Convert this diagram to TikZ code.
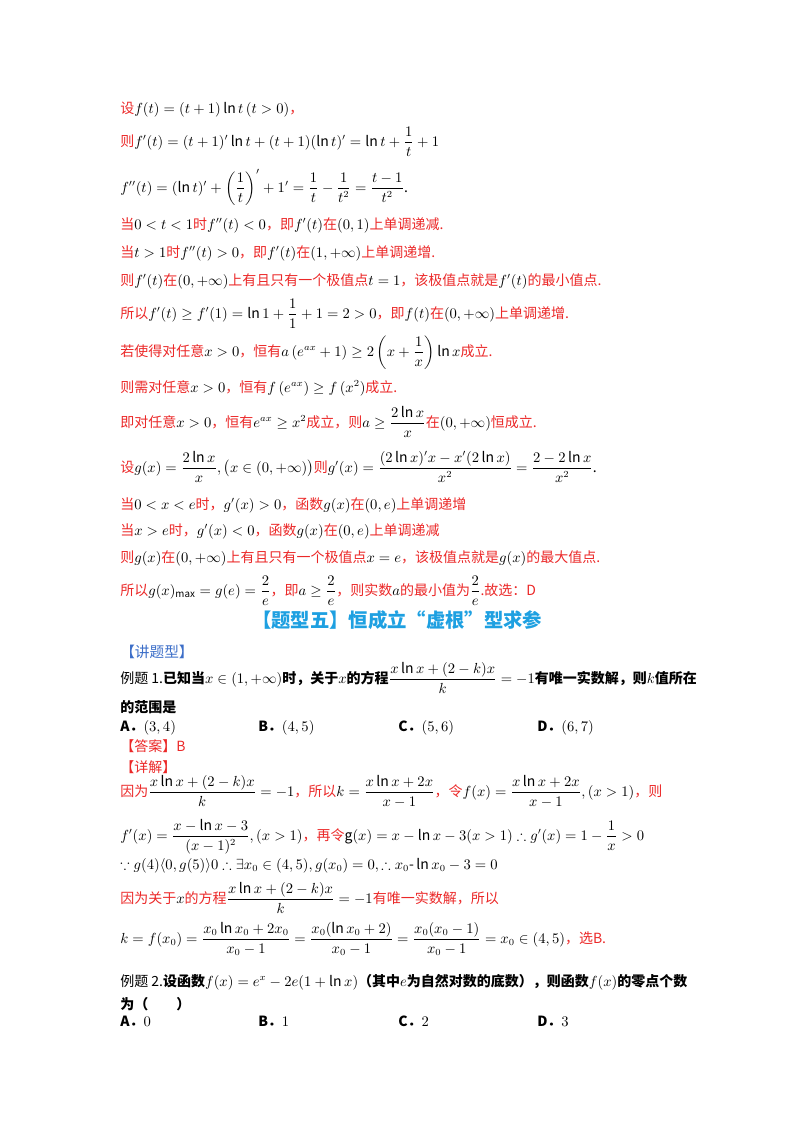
\documentclass[tikz,border=0pt]{standalone}
\usepackage{fontspec}
\usepackage{amsmath,amssymb}
\setmainfont{Noto Sans CJK SC}
\definecolor{rd}{RGB}{235,40,40}
\definecolor{hd}{RGB}{30,160,225}
\definecolor{bl}{RGB}{60,110,200}
\newcommand{\R}[1]{\textcolor{rd}{#1}}
\tikzset{ln/.style={anchor=base west,inner sep=0pt,font=\fontsize{10.5pt}{12pt}\selectfont}}
\begin{document}
\begin{tikzpicture}[x=0.75pt,y=-0.75pt]
\useasboundingbox (0,0) rectangle (800,1132);
\node[ln] (l1) at (120,113) {\R{设}$f(t)=(t+1)\ln t\,(t>0)$\R{，}};
\node[ln] (l2) at (120,146) {\R{则}$f'(t)=(t+1)'\ln t+(t+1)(\ln t)'=\ln t+\dfrac{1}{t}+1$};
\node[ln] (l3) at (120,192) {$f''(t)=(\ln t)'+\left(\dfrac{1}{t}\right)'+1'=\dfrac{1}{t}-\dfrac{1}{t^2}=\dfrac{t-1}{t^2}$.};
\node[ln] (l4) at (120,229) {\R{当}$0<t<1$\R{时}$f''(t)<0$\R{，即}$f'(t)$\R{在}$(0,1)$\R{上单调递减.}};
\node[ln] (l5) at (120,257) {\R{当}$t>1$\R{时}$f''(t)>0$\R{，即}$f'(t)$\R{在}$(1,+\infty)$\R{上单调递增.}};
\node[ln] (l6) at (120,285) {\R{则}$f'(t)$\R{在}$(0,+\infty)$\R{上有且只有一个极值点}$t=1$\R{，该极值点就是}$f'(t)$\R{的最小值点.}};
\node[ln] (l7) at (120,318) {\R{所以}$f'(t)\ge f'(1)=\ln1+\dfrac11+1=2>0$\R{，即}$f(t)$\R{在}$(0,+\infty)$\R{上单调递增.}};
\node[ln] (l8) at (120,356) {\R{若使得对任意}$x>0$\R{，恒有}$a\left(e^{ax}+1\right)\ge2\left(x+\dfrac1x\right)\ln x$\R{成立.}};
\node[ln] (l9) at (120,392) {\R{则需对任意}$x>0$\R{，恒有}$f\left(e^{ax}\right)\ge f\left(x^2\right)$\R{成立.}};
\node[ln] (l10) at (120,427) {\R{即对任意}$x>0$\R{，恒有}$e^{ax}\ge x^2$\R{成立，则}$a\ge\dfrac{2\ln x}{x}$\R{在}$(0,+\infty)$\R{恒成立.}};
\node[ln] (l11) at (120,472) {\R{设}$g(x)=\dfrac{2\ln x}{x},\bigl(x\in(0,+\infty)\bigr)$\R{则}$g'(x)=\dfrac{(2\ln x)'x-x'(2\ln x)}{x^2}=\dfrac{2-2\ln x}{x^2}$.};
\node[ln] (l12) at (120,509) {\R{当}$0<x<e$\R{时，}$g'(x)>0$\R{，函数}$g(x)$\R{在}$(0,e)$\R{上单调递增}};
\node[ln] (l13) at (120,535) {\R{当}$x>e$\R{时，}$g'(x)<0$\R{，函数}$g(x)$\R{在}$(0,e)$\R{上单调递减}};
\node[ln] (l14) at (120,562) {\R{则}$g(x)$\R{在}$(0,+\infty)$\R{上有且只有一个极值点}$x=e$\R{，该极值点就是}$g(x)$\R{的最大值点.}};
\node[ln] (l15) at (120,595) {\R{所以}$g(x)_{\max}=g(e)=\dfrac2e$\R{，即}$a\ge\dfrac2e$\R{，则实数}$a$\R{的最小值为}$\dfrac2e$\R{.故选：D}};
\node[anchor=base,inner sep=0pt,font=\fontsize{14.5pt}{16pt}\selectfont\bfseries,text=hd] (hd) at (397,627) {【题型五】恒成立“虚根”型求参};
\node[ln,text=bl,font=\fontsize{11pt}{13pt}\selectfont] (jt) at (120,657) {【讲题型】};
\node[ln] (e1) at (120,683) {例题 1.\textbf{已知当}$x\in(1,+\infty)$\textbf{时，关于}$x$\textbf{的方程}$\dfrac{x\ln x+(2-k)x}{k}=-1$\textbf{有唯一实数解，则}$k$\textbf{值所在}};
\node[ln] (e1b) at (120,712) {\textbf{的范围是}};
\node[ln] (a1) at (120,731) {\textbf{A．}$(3,4)$};
\node[ln] (b1) at (258,731) {\textbf{B．}$(4,5)$};
\node[ln] (c1) at (398,731) {\textbf{C．}$(5,6)$};
\node[ln] (d1) at (537,731) {\textbf{D．}$(6,7)$};
\node[ln] (ans) at (120,751) {\R{【答案】B}};
\node[ln] (xj) at (120,772) {\R{【详解】}};
\node[ln] (s1) at (120,796) {\R{因为}$\dfrac{x\ln x+(2-k)x}{k}=-1$\R{，所以}$k=\dfrac{x\ln x+2x}{x-1}$\R{，令}$f(x)=\dfrac{x\ln x+2x}{x-1},(x>1)$\R{，则}};
\node[ln] (s2) at (120,840) {$f'(x)=\dfrac{x-\ln x-3}{(x-1)^2},(x>1)$\R{，再令}$\mathrm{g}(x)=x-\ln x-3(x>1)\therefore g'(x)=1-\dfrac1x>0$};
\node[ln] (s3) at (120,869) {$\because g(4)\langle0,g(5)\rangle0\therefore\exists x_0\in(4,5),g(x_0)=0,\therefore x_0\text{-}\ln x_0-3=0$};
\node[ln] (s4) at (120,903) {\R{因为关于}$x$\R{的方程}$\dfrac{x\ln x+(2-k)x}{k}=-1$\R{有唯一实数解，所以}};
\node[ln] (s5) at (120,943) {$k=f(x_0)=\dfrac{x_0\ln x_0+2x_0}{x_0-1}=\dfrac{x_0(\ln x_0+2)}{x_0-1}=\dfrac{x_0(x_0-1)}{x_0-1}=x_0\in(4,5)$\R{，选B.}};
\node[ln] (e2) at (120,986) {例题 2.\textbf{设函数}$f(x)=e^x-2e(1+\ln x)$\textbf{（其中}$e$\textbf{为自然对数的底数），则函数}$f(x)$\textbf{的零点个数}};
\node[ln] (e2b) at (120,1009) {\textbf{为（\quad\quad）}};
\node[ln] (a2) at (120,1026) {\textbf{A．}$0$};
\node[ln] (b2) at (258,1026) {\textbf{B．}$1$};
\node[ln] (c2) at (398,1026) {\textbf{C．}$2$};
\node[ln] (d2) at (537,1026) {\textbf{D．}$3$};
\end{tikzpicture}
\end{document}
